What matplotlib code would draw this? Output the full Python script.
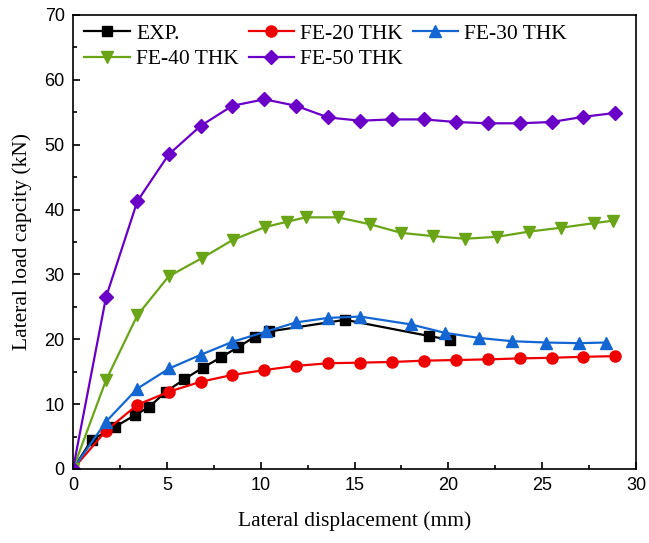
import matplotlib.pyplot as plt
from matplotlib.ticker import MultipleLocator

# Lateral displacement (mm) / lateral load (kN)
exp_x = [0, 1.0, 2.24, 3.3, 4.07, 4.95, 5.91, 6.9, 7.88, 8.77, 9.7, 10.46, 14.5, 18.98, 20.1]
exp_y = [0, 4.5, 6.5, 8.3, 9.6, 11.9, 13.8, 15.6, 17.2, 18.75, 20.4, 21.2, 23.0, 20.5, 19.9]

fe_x = [0, 1.76, 3.43, 5.1, 6.8, 8.49, 10.2, 11.88, 13.6, 15.3, 17.0, 18.7, 20.4, 22.1, 23.8, 25.5, 27.2, 28.9]
fe20_y = [0, 5.9, 9.9, 11.9, 13.45, 14.5, 15.25, 15.9, 16.3, 16.4, 16.5, 16.7, 16.8, 16.9, 17.05, 17.15, 17.3, 17.4]

fe30_x = [0, 1.76, 3.43, 5.13, 6.8, 8.49, 10.3, 11.88, 13.6, 15.3, 17.99, 19.8, 21.65, 23.4, 25.2, 26.97, 28.4]
fe30_y = [0, 7.3, 12.4, 15.5, 17.6, 19.6, 21.2, 22.6, 23.3, 23.5, 22.3, 21.0, 20.2, 19.7, 19.5, 19.4, 19.5]

fe40_x = [0, 1.76, 3.43, 5.1, 6.86, 8.5, 10.23, 11.38, 12.4, 14.1, 15.8, 17.5, 19.2, 20.9, 22.6, 24.3, 26.0, 27.75, 28.8]
fe40_y = [0, 13.7, 23.7, 29.7, 32.5, 35.3, 37.3, 38.1, 38.8, 38.8, 37.75, 36.4, 35.9, 35.5, 35.8, 36.6, 37.2, 37.9, 38.3]

fe50_y = [0, 26.5, 41.3, 48.5, 52.9, 56.0, 57.0, 56.0, 54.2, 53.7, 53.9, 53.9, 53.5, 53.3, 53.3, 53.5, 54.3, 54.9]

plt.rcParams['font.family'] = ['Liberation Sans', 'DejaVu Sans']
serif = 'Liberation Serif'

fig = plt.figure(figsize=(6.49, 5.43), dpi=100)
ax = fig.add_axes([0.1125, 0.1363, 0.8675, 0.8361])

ms = 7
l_exp, = ax.plot(exp_x, exp_y, color='black', marker='s', ms=ms, lw=1.6, label='EXP.')
l_20, = ax.plot(fe_x, fe20_y, color='#ee0000', marker='o', ms=ms + 1, lw=1.6, label='FE-20 THK')
l_30, = ax.plot(fe30_x, fe30_y, color='#1466d2', marker='^', ms=ms + 1, lw=1.6, label='FE-30 THK')
l_40, = ax.plot(fe40_x, fe40_y, color='#6aa517', marker='v', ms=ms + 1, lw=1.6, label='FE-40 THK')
l_50, = ax.plot(fe_x, fe50_y, color='#6a00c8', marker='D', ms=ms, lw=1.6, label='FE-50 THK')

ax.set_xlim(0, 30)
ax.set_ylim(0, 70)
ax.xaxis.set_major_locator(MultipleLocator(5))
ax.xaxis.set_minor_locator(MultipleLocator(2.5))
ax.yaxis.set_major_locator(MultipleLocator(10))
ax.yaxis.set_minor_locator(MultipleLocator(5))
ax.tick_params(which='both', direction='in', top=False, right=False, labelsize=13)
ax.tick_params(which='major', length=5, width=1.2, pad=6)
ax.tick_params(which='minor', length=3, width=1.2)
for s in ax.spines.values():
    s.set_linewidth(1.2)

ax.set_xlabel('Lateral displacement (mm)', family=serif, fontsize=15.5, labelpad=12)
ax.set_ylabel('Lateral load capcity (kN)', family=serif, fontsize=15.5, labelpad=9)

handles = [l_exp, l_40, l_20, l_50, l_30]
ax.legend(handles=handles, ncol=3, loc='upper left', frameon=False,
          prop={'family': serif, 'size': 15.5}, handlelength=2.1,
          columnspacing=0.45, handletextpad=0.3, labelspacing=0.25,
          borderaxespad=0.0, bbox_to_anchor=(0.005, 1.0))

fig.savefig('out.png', dpi=100)
